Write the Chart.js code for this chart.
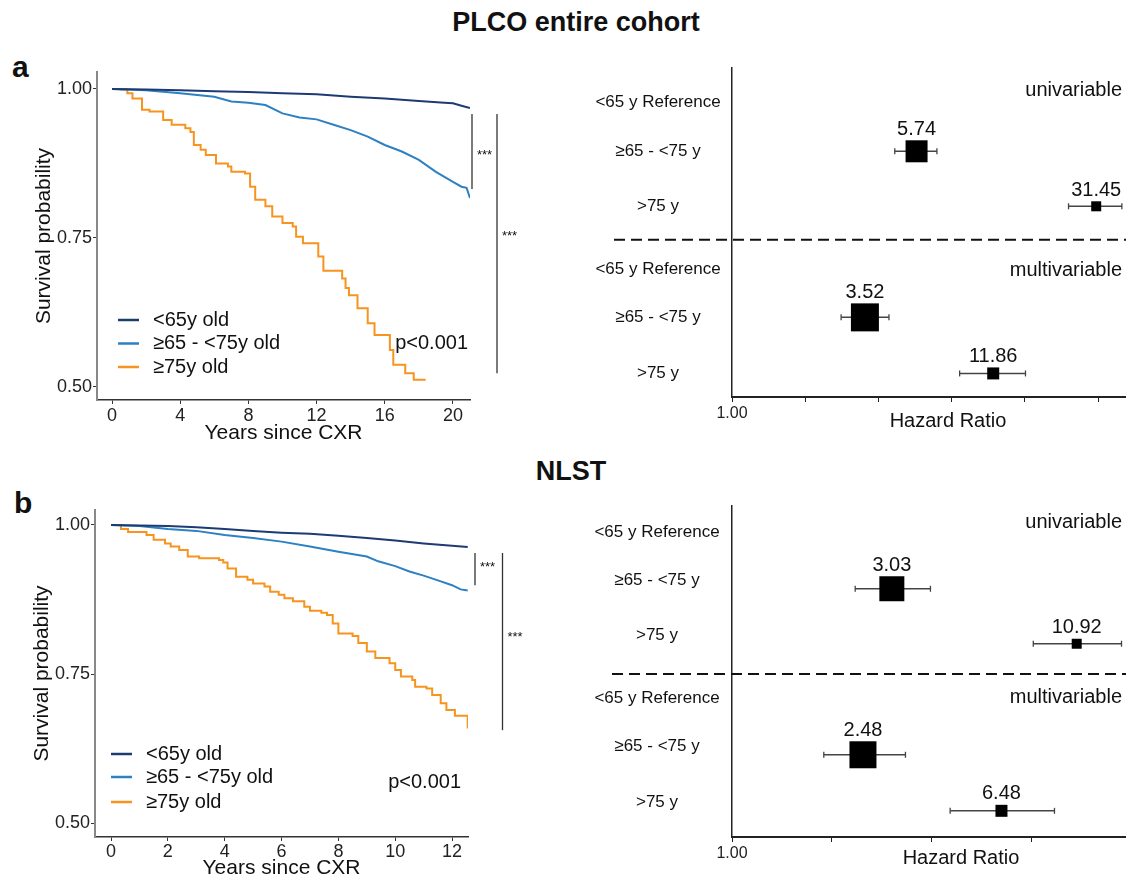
<!DOCTYPE html>
<html>
<head>
<meta charset="utf-8">
<script src="https://cdn.jsdelivr.net/npm/chart.js@4.4.1/dist/chart.umd.min.js"></script>
<style>
  body { margin: 0; background: #fff; }
  #page { position: relative; width: 1126px; height: 881px; overflow: hidden; font-family: 'Liberation Sans', Arial, sans-serif; color: #111; }
  canvas { position: absolute; }
  .title { position: absolute; font-weight: bold; font-size: 27px; transform: translateX(-50%); white-space: nowrap; }
  .tag { position: absolute; font-weight: bold; font-size: 30px; }
</style>
</head>
<body>
<div id="page">
  <div class="title" style="left:576px; top:7px">PLCO entire cohort</div>
  <div class="title" style="left:571px; top:456px">NLST</div>
  <div class="tag" style="left:12px; top:50px">a</div>
  <div class="tag" style="left:14px; top:486px">b</div>
  <canvas id="kmA" width="560" height="390" style="left:0; top:60px"></canvas>
  <canvas id="forestA" width="566" height="390" style="left:560px; top:60px"></canvas>
  <canvas id="kmB" width="560" height="391" style="left:0; top:490px"></canvas>
  <canvas id="forestB" width="566" height="391" style="left:560px; top:490px"></canvas>
</div>
<script>
const FONT = "'Liberation Sans', Arial, sans-serif";
Chart.defaults.font.family = FONT;
Chart.defaults.color = '#222';

// group names
const kmLabels = ['<65y old', '≥65 - <75y old', '≥75y old'];
const kmColors = ['#1c3b73', '#2c80c3', '#f7941f'];
const forestRows = ['<65 y Reference', '≥65 - <75 y', '>75 y', '<65 y Reference', '≥65 - <75 y', '>75 y'];

// PLCO survival curves (years since CXR, survival probability)
const plcoYoungYears = [0, 2, 4, 6, 8, 10, 12, 14, 16, 18, 19.5, 20, 20.5, 21];
const plcoYoungSurv = [1, 0.999, 0.998, 0.996, 0.995, 0.993, 0.991, 0.987, 0.984, 0.98, 0.977, 0.976, 0.972, 0.968];
const plcoMidYears = [0, 2, 4, 6, 7, 8, 9, 10, 11, 12, 13, 14, 15, 16, 17, 18, 19, 20, 20.5, 20.8, 21];
const plcoMidSurv = [1, 0.998, 0.993, 0.987, 0.979, 0.977, 0.973, 0.959, 0.952, 0.949, 0.94, 0.931, 0.92, 0.906, 0.895, 0.881, 0.861, 0.844, 0.836, 0.834, 0.817];
const plcoOldYears = [0, 0.5, 0.9, 1.2, 1.76, 2.2, 3.0, 3.5, 4.3, 4.6, 4.8, 5.2, 5.5, 6.1, 6.8, 7.0, 7.8, 8.1, 8.4, 9.0, 9.4, 10.0, 10.6, 10.8, 11.2, 12.1, 12.4, 13.5, 13.7, 13.9, 14.4, 15.0, 15.4, 16.3, 16.5, 17.2, 17.7, 18.4];
const plcoOldSurv = [1, 0.999, 0.993, 0.984, 0.965, 0.962, 0.948, 0.94, 0.934, 0.928, 0.906, 0.898, 0.889, 0.875, 0.87, 0.861, 0.858, 0.836, 0.814, 0.803, 0.786, 0.775, 0.769, 0.752, 0.741, 0.719, 0.695, 0.682, 0.666, 0.654, 0.632, 0.607, 0.587, 0.562, 0.537, 0.523, 0.512, 0.512];

// NLST survival curves
const nlstYoungYears = [0, 1, 2, 3, 4, 5, 6, 7, 8, 9, 10, 11, 12, 12.55];
const nlstYoungSurv = [1, 0.999, 0.998, 0.996, 0.993, 0.99, 0.987, 0.985, 0.982, 0.978, 0.974, 0.969, 0.965, 0.963];
const nlstMidYears = [0, 1, 2, 3, 4, 5, 6, 7, 8, 9, 9.4, 10, 10.5, 11, 11.5, 12, 12.3, 12.55];
const nlstMidSurv = [1, 0.998, 0.993, 0.99, 0.983, 0.978, 0.972, 0.964, 0.955, 0.947, 0.939, 0.931, 0.922, 0.915, 0.907, 0.899, 0.892, 0.89];
const nlstOldYears = [0, 0.35, 0.6, 1.25, 1.5, 1.9, 2.1, 2.4, 2.7, 3.1, 3.8, 3.95, 4.1, 4.4, 4.8, 5.0, 5.4, 5.6, 5.9, 6.1, 6.4, 6.8, 7.0, 7.4, 7.6, 7.8, 8.0, 8.5, 8.7, 9.0, 9.3, 9.8, 10.0, 10.2, 10.6, 10.7, 11.1, 11.3, 11.6, 11.8, 12.1, 12.5, 12.55];
const nlstOldSurv = [1, 0.993, 0.988, 0.983, 0.975, 0.969, 0.964, 0.958, 0.947, 0.944, 0.941, 0.937, 0.927, 0.913, 0.908, 0.902, 0.897, 0.888, 0.883, 0.877, 0.872, 0.863, 0.856, 0.853, 0.849, 0.835, 0.818, 0.814, 0.802, 0.788, 0.777, 0.768, 0.757, 0.746, 0.74, 0.729, 0.726, 0.715, 0.701, 0.69, 0.68, 0.68, 0.659];

// axis ticks
const plcoYearTicks = [0, 4, 8, 12, 16, 20];
const nlstYearTicks = [0, 2, 4, 6, 8, 10, 12];
const survTicks = [0.5, 0.75, 1.0];

// hazard ratios with 95% CI (null = reference group)
const plcoHR = [null, 5.74, 31.45, null, 3.52, 11.86];
const plcoLow = [null, 4.67, 24.2, null, 2.81, 8.63];
const plcoHigh = [null, 6.96, 40.1, null, 4.42, 16.1];
const nlstHR = [null, 3.03, 10.92, null, 2.48, 6.48];
const nlstLow = [null, 2.35, 8.08, null, 1.89, 4.54];
const nlstHigh = [null, 3.96, 14.9, null, 3.33, 9.36];
const hrTicks = [1, 2, 4, 8, 16, 32];

// Kaplan-Meier extras: legend, p value, significance brackets
function kmExtras(cfg) {
  return {
    id: 'kmExtras',
    afterDraw(chart) {
      const { ctx, chartArea: a } = chart;
      const y = chart.scales.y;
      ctx.save();
      ctx.textBaseline = 'middle';
      chart.data.datasets.forEach((ds, i) => {
        const ly = a.bottom - cfg.legendRows[i];
        ctx.strokeStyle = ds.borderColor;
        ctx.lineWidth = 2.5;
        ctx.beginPath();
        ctx.moveTo(a.left + cfg.legendX, ly);
        ctx.lineTo(a.left + cfg.legendX + 21, ly);
        ctx.stroke();
        ctx.font = '20px ' + FONT;
        ctx.fillStyle = '#111';
        ctx.textAlign = 'left';
        ctx.fillText(ds.label, a.left + cfg.legendText, ly);
      });
      ctx.textAlign = 'right';
      ctx.fillText('p<0.001', a.right - cfg.pRight, a.bottom - cfg.pUp);
      cfg.brackets.forEach(b => {
        const x = a.right + b.dx;
        ctx.strokeStyle = '#333';
        ctx.lineWidth = 1.3;
        ctx.beginPath();
        ctx.moveTo(x, y.getPixelForValue(b.from));
        ctx.lineTo(x, y.getPixelForValue(b.to));
        ctx.stroke();
        ctx.font = '13px ' + FONT;
        ctx.textAlign = 'left';
        ctx.fillText('***', x + 5, y.getPixelForValue(b.star));
      });
      ctx.restore();
    }
  };
}

function kmChart(id, cfg) {
  return new Chart(document.getElementById(id), {
    type: 'line',
    data: {
      datasets: cfg.series.map((s, i) => ({
        label: kmLabels[i],
        data: s.x.map((x, j) => ({ x: x, y: s.y[j] })),
        borderColor: kmColors[i],
        borderWidth: 2,
        pointRadius: 0,
        stepped: s.stepped,
        fill: false
      }))
    },
    options: {
      responsive: false,
      animation: false,
      devicePixelRatio: 1,
      layout: { padding: cfg.padding, autoPadding: false },
      plugins: { legend: { display: false }, tooltip: { enabled: false } },
      scales: {
        x: {
          type: 'linear',
          min: cfg.xMin, max: cfg.xMax,
          afterBuildTicks: s => { s.ticks = cfg.xTicks.map(v => ({ value: v })); },
          afterFit: s => { s.height = cfg.xHeight; },
          grid: { drawOnChartArea: false, drawTicks: true, tickLength: 4, color: '#333' },
          border: { color: '#333', width: 1.5 },
          ticks: { font: { size: 18 }, color: '#222', padding: cfg.xTickPad, maxRotation: 0 },
          title: { display: true, text: 'Years since CXR', font: { size: 21 }, color: '#111', padding: { bottom: cfg.xTitlePad } }
        },
        y: {
          min: cfg.yMin, max: cfg.yMax,
          afterBuildTicks: s => { s.ticks = survTicks.map(v => ({ value: v })); },
          afterFit: s => { s.width = cfg.yWidth; },
          grid: { drawOnChartArea: false, drawTicks: true, tickLength: 4, color: '#333' },
          border: { color: '#888', width: 2 },
          ticks: { font: { size: 18 }, color: '#222', padding: 1, callback: v => v.toFixed(2) },
          title: { display: true, text: 'Survival probability', font: { size: 21 }, color: '#111', padding: { top: cfg.yTitlePad } }
        }
      }
    },
    plugins: [kmExtras(cfg)]
  });
}

kmChart('kmA', {
  series: [
    { x: plcoYoungYears, y: plcoYoungSurv, stepped: false },
    { x: plcoMidYears, y: plcoMidSurv, stepped: false },
    { x: plcoOldYears, y: plcoOldSurv, stepped: true }
  ],
  padding: { top: 12, right: 90, left: 0, bottom: 0 },
  xMin: -0.88, xMax: 21.0, xTicks: plcoYearTicks,
  yMin: 0.478, yMax: 1.0285,
  xHeight: 50, yWidth: 97, xTickPad: 1, xTitlePad: 4, yTitlePad: 32,
  legendRows: [80, 56.5, 33], legendX: 21, legendText: 56,
  pRight: 2, pUp: 57,
  brackets: [
    { dx: 2, from: 0.958, to: 0.832, star: 0.888 },
    { dx: 27, from: 0.958, to: 0.523, star: 0.753 }
  ]
});

kmChart('kmB', {
  series: [
    { x: nlstYoungYears, y: nlstYoungSurv, stepped: false },
    { x: nlstMidYears, y: nlstMidSurv, stepped: false },
    { x: nlstOldYears, y: nlstOldSurv, stepped: true }
  ],
  padding: { top: 20, right: 92, left: 0, bottom: 0 },
  xMin: -0.563, xMax: 12.56, xTicks: nlstYearTicks,
  yMin: 0.477, yMax: 1.025,
  xHeight: 44, yWidth: 95, xTickPad: 0, xTitlePad: 0, yTitlePad: 30,
  legendRows: [83, 60, 35], legendX: 16, legendText: 51,
  pRight: 7, pUp: 55,
  brackets: [
    { dx: 7, from: 0.953, to: 0.899, star: 0.928 },
    { dx: 34.5, from: 0.953, to: 0.656, star: 0.811 }
  ]
});

// forest plot extras: row labels, section labels, dashed divider, HR values
function forestExtras(cfg) {
  return {
    id: 'forestExtras',
    afterDraw(chart) {
      const { ctx, chartArea: a } = chart;
      const y = chart.scales.y;
      ctx.save();
      ctx.fillStyle = '#111';
      ctx.textBaseline = 'middle';
      ctx.font = '17px ' + FONT;
      ctx.textAlign = 'center';
      forestRows.forEach((t, i) => {
        ctx.fillText(t, cfg.labelX, y.getPixelForValue(cfg.rowPos[i] - cfg.labelShift));
      });
      ctx.font = '20px ' + FONT;
      ctx.textAlign = 'right';
      ctx.fillText('univariable', a.right - 4, y.getPixelForValue(cfg.sectionPos[0]));
      ctx.fillText('multivariable', a.right - 4, y.getPixelForValue(cfg.sectionPos[1]));
      ctx.textAlign = 'center';
      ctx.fillText('Hazard Ratio', a.left + cfg.hrTitleX, cfg.hrTitleY);
      const meta = chart.getDatasetMeta(0);
      meta.data.forEach((el, i) => {
        const raw = chart.data.datasets[0].data[i];
        ctx.fillText(raw.x.toFixed(2), el.x, el.y - raw.side / 2 - 11);
      });
      const sy = y.getPixelForValue(cfg.dividerPos);
      ctx.strokeStyle = '#111';
      ctx.lineWidth = 2;
      ctx.setLineDash([11, 6]);
      ctx.beginPath();
      ctx.moveTo(cfg.dividerStart, sy);
      ctx.lineTo(chart.width, sy);
      ctx.stroke();
      ctx.restore();
    }
  };
}

function forestChart(id, cfg) {
  const boxes = [];
  const bars = [];
  cfg.hr.forEach((v, i) => {
    if (v === null) return;
    boxes.push({ x: v, y: cfg.rowPos[i], side: cfg.boxSide[i] });
    bars.push({
      data: [{ x: cfg.low[i], y: cfg.rowPos[i] }, { x: cfg.high[i], y: cfg.rowPos[i] }],
      showLine: true,
      borderColor: '#444',
      borderWidth: 1.5,
      pointStyle: 'line',
      rotation: 90,
      pointRadius: 3,
      pointBorderColor: '#444',
      pointBorderWidth: 1.3,
      order: 2
    });
  });
  return new Chart(document.getElementById(id), {
    type: 'scatter',
    data: {
      datasets: [{
        data: boxes,
        pointStyle: 'rect',
        pointRadius: c => c.raw.side / Math.SQRT2,
        backgroundColor: '#000',
        borderColor: '#000',
        borderWidth: 0,
        clip: false,
        order: 0
      }].concat(bars)
    },
    options: {
      responsive: false,
      animation: false,
      devicePixelRatio: 1,
      layout: { padding: { top: cfg.top, right: 0, left: 0, bottom: 0 }, autoPadding: false },
      plugins: { legend: { display: false }, tooltip: { enabled: false } },
      scales: {
        x: {
          type: 'logarithmic',
          min: 1, max: cfg.xMax,
          afterBuildTicks: s => { s.ticks = hrTicks.filter(v => v <= cfg.xMax).map(v => ({ value: v })); },
          afterFit: s => { s.height = cfg.xHeight; },
          grid: { drawOnChartArea: false, drawTicks: true, tickLength: 5, color: '#222' },
          border: { color: '#222', width: 2 },
          ticks: { font: { size: 16 }, color: '#222', padding: 2, maxRotation: 0, autoSkip: false,
                   callback: v => (v === 1 ? '1.00' : '') }
        },
        y: {
          reverse: true,
          min: 0, max: cfg.yMax,
          afterFit: s => { s.width = cfg.yWidth; },
          grid: { display: false },
          border: { color: '#222', width: 1.5 },
          ticks: { display: false }
        }
      }
    },
    plugins: [forestExtras(cfg)]
  });
}

forestChart('forestA', {
  hr: plcoHR, low: plcoLow, high: plcoHigh,
  rowPos: [0.65, 1.59, 2.64, 3.84, 4.76, 5.83],
  labelShift: 0,
  boxSide: [0, 22, 10, 0, 28, 12],
  sectionPos: [0.42, 3.87],
  dividerPos: 3.28, dividerStart: 54,
  labelX: 98,
  top: 8, xHeight: 53, yWidth: 172, yMax: 6.28, xMax: 41.7,
  hrTitleX: 216, hrTitleY: 361
});

forestChart('forestB', {
  hr: nlstHR, low: nlstLow, high: nlstHigh,
  rowPos: [0.65, 1.58, 2.63, 3.83, 4.75, 5.82],
  labelShift: 0.153,
  boxSide: [0, 25, 10, 0, 27, 12],
  sectionPos: [0.324, 3.66],
  dividerPos: 3.21, dividerStart: 52,
  labelX: 97,
  top: 16, xHeight: 44, yWidth: 172, yMax: 6.32, xMax: 15.37,
  hrTitleX: 229, hrTitleY: 368
});
</script>
</body>
</html>
